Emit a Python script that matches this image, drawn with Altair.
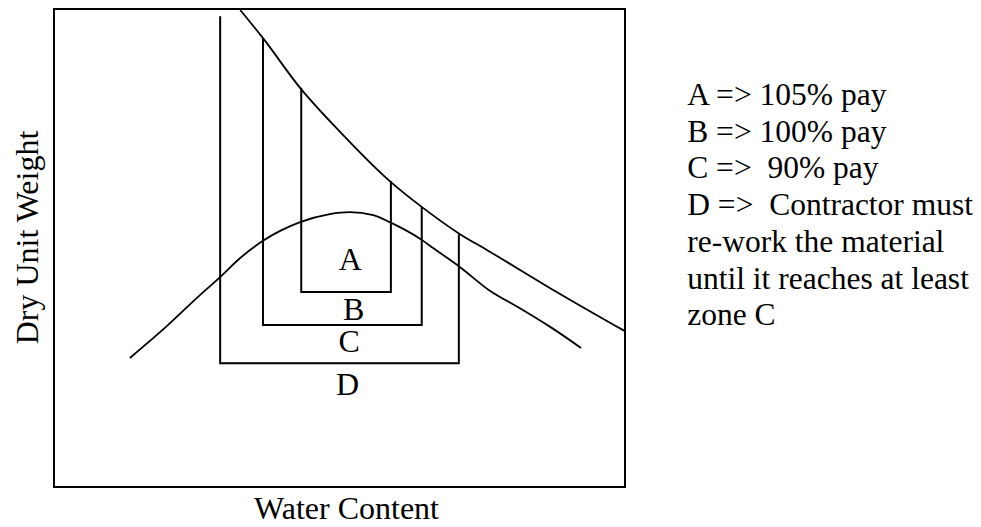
import altair as alt
import pandas as pd

# Compaction curve (water content vs dry unit weight), arbitrary units 0-100
comp_w = [13.3, 19.8, 25.6, 29.1, 32.6, 36.6, 43.1, 48.3, 51.8, 55.9, 58.8, 64.4, 66.4, 70.9, 76.4, 81.6, 86.9, 92.3]
comp_g = [27.0, 33.7, 40.2, 43.9, 47.9, 51.5, 55.4, 57.1, 57.5, 56.9, 55.4, 51.7, 50.0, 46.2, 41.0, 37.4, 33.5, 29.1]

# Zero-air-voids type curve
zav_w = [32.6, 36.6, 43.1, 50.1, 58.8, 64.4, 71.1, 75.8, 86.9, 100.0]
zav_g = [99.8, 93.9, 83.5, 74.3, 64.0, 58.6, 52.9, 49.6, 41.6, 32.6]

# Acceptance zones (U-shaped boundaries)
zone_names = ["A", "B", "C"]
zone_left = [43.3, 36.6, 29.1]
zone_right = [59.0, 64.4, 70.9]
zone_bottom = [40.8, 33.9, 25.9]
zone_top_left = [83.5, 93.9, 98.5]
zone_top_right = [64.0, 58.6, 52.9]

# Zone labels
label_text = ["A", "B", "C", "D"]
label_w = [51.9, 52.5, 51.7, 51.4]
label_g = [45.4, 34.9, 28.3, 19.2]

# Pay notes
legend_lines = [
    "A => 105% pay",
    "B => 100% pay",
    "C => \u00a090% pay",
    "D => \u00a0Contractor must",
    "re-work the material",
    "until it reaches at least",
    "zone C",
]
legend_w = 110.9
legend_g = 79.9

FONT = "Liberation Serif"

comp_df = pd.DataFrame({"w": comp_w, "g": comp_g})
zav_df = pd.DataFrame({"w": zav_w, "g": zav_g})

rows = []
for i, z in enumerate(zone_names):
    pts = [(zone_left[i], zone_top_left[i]), (zone_left[i], zone_bottom[i]),
           (zone_right[i], zone_bottom[i]), (zone_right[i], zone_top_right[i])]
    for k, (w, g) in enumerate(pts):
        rows.append({"zone": z, "order": k, "w": w, "g": g})
zone_df = pd.DataFrame(rows)

label_df = pd.DataFrame({"t": label_text, "w": label_w, "g": label_g})
legend_df = pd.DataFrame({"t": ["\n".join(legend_lines)], "w": [legend_w], "g": [legend_g]})

xs = alt.Scale(domain=[0, 100], nice=False, zero=False)
ys = alt.Scale(domain=[0, 100], nice=False, zero=False)

x_axis = alt.Axis(title="Water Content", labels=False, ticks=False, domain=False, grid=False,
                  titleFont=FONT, titleFontSize=32, titleFontWeight="normal", titleColor="black",
                  titleBaseline="alphabetic", titleX=292, titleY=31, titleAlign="center")
y_axis = alt.Axis(title="Dry Unit Weight", labels=False, ticks=False, domain=False, grid=False,
                  titleFont=FONT, titleFontSize=32, titleFontWeight="normal", titleColor="black",
                  titleBaseline="alphabetic", titleAngle=270, titleX=-17, titleY=228, titleAlign="center")

comp = alt.Chart(comp_df).mark_line(color="black", strokeWidth=1.8, interpolate="monotone").encode(
    x=alt.X("w:Q", scale=xs, axis=x_axis),
    y=alt.Y("g:Q", scale=ys, axis=y_axis),
)

zav = alt.Chart(zav_df).mark_line(color="black", strokeWidth=1.8, interpolate="monotone").encode(
    x=alt.X("w:Q", scale=xs),
    y=alt.Y("g:Q", scale=ys),
)

zones = alt.Chart(zone_df).mark_line(color="black", strokeWidth=2).encode(
    x=alt.X("w:Q", scale=xs),
    y=alt.Y("g:Q", scale=ys),
    detail="zone:N",
    order="order:Q",
)

labels = alt.Chart(label_df).mark_text(font=FONT, fontSize=32, color="black",
                                       align="center", baseline="alphabetic").encode(
    x=alt.X("w:Q", scale=xs),
    y=alt.Y("g:Q", scale=ys),
    text="t:N",
)

legend = alt.Chart(legend_df).mark_text(font=FONT, fontSize=31.5, color="black", align="left",
                                        baseline="alphabetic", lineBreak="\n", lineHeight=36.7).encode(
    x=alt.X("w:Q", scale=xs),
    y=alt.Y("g:Q", scale=ys),
    text="t:N",
)

chart = alt.layer(comp, zav, zones, labels, legend).properties(
    width=571,
    height=478,
    padding={"left": 46, "top": 1, "right": 348, "bottom": 32},
    autosize=alt.AutoSizeParams(type="none"),
).configure_view(stroke="black", strokeWidth=2)

chart.save("out.html", embed_options={"renderer": "svg", "actions": False})
